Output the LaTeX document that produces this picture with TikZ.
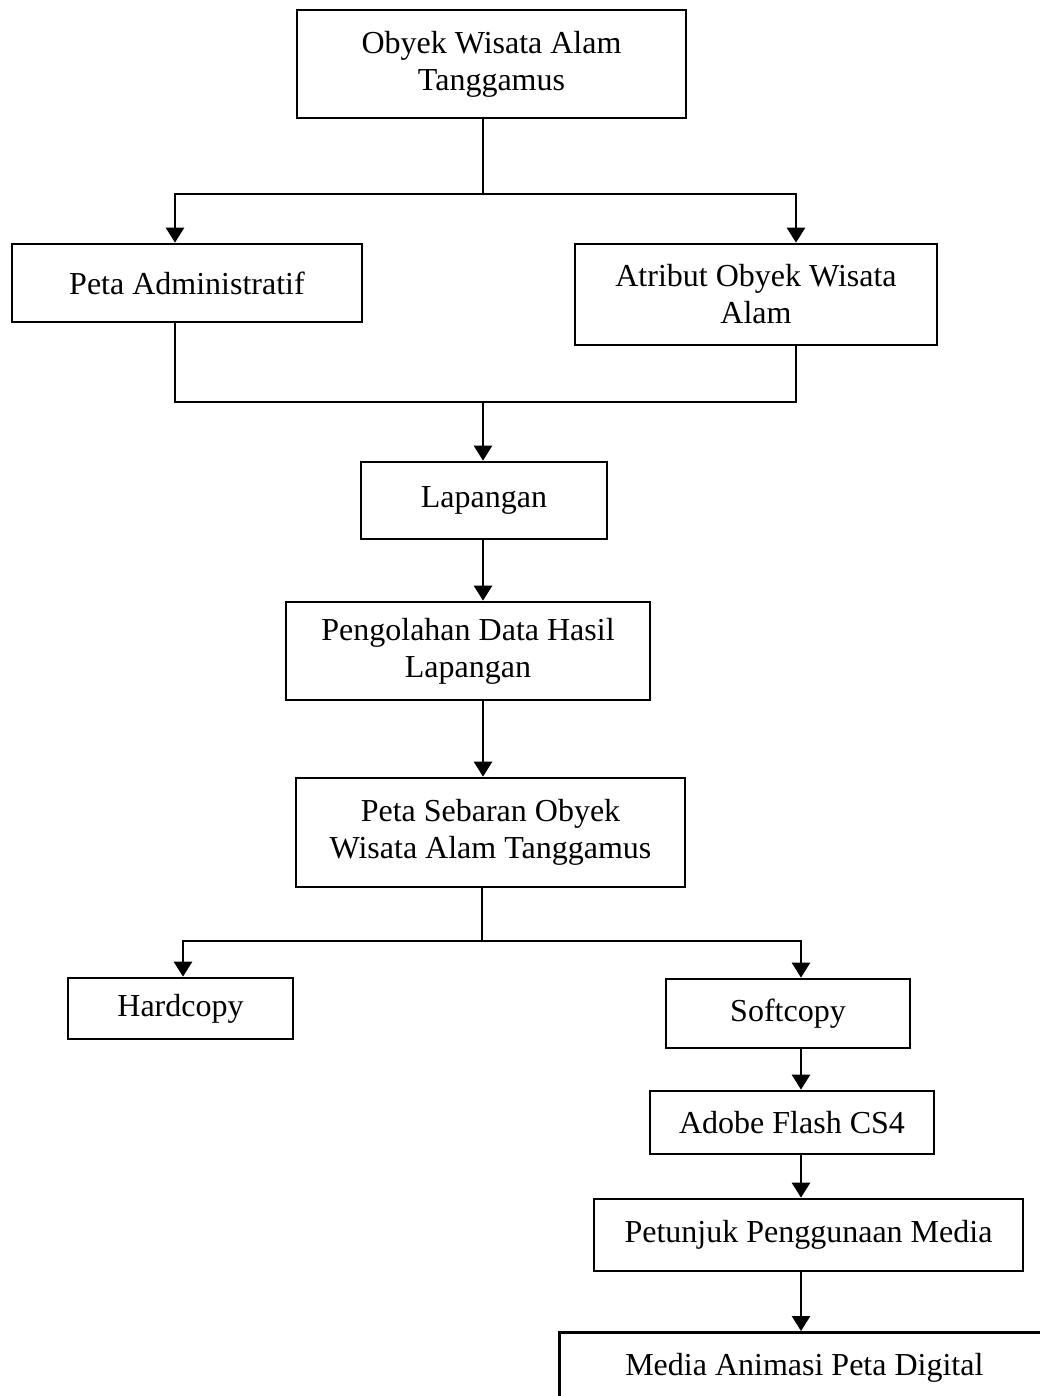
\documentclass[tikz,border=0pt]{standalone}
\usepackage{fontspec}
\setmainfont{Liberation Serif}
\usetikzlibrary{arrows.meta}
\tikzset{
  every picture/.style={
    line width=2.7pt,
    >={Triangle[width=18pt, length=15pt]}
  },
  box/.style={
    draw, rectangle, align=center, inner sep=0pt,
    font=\fontsize{32}{37}\selectfont
  }
}

\begin{document}
\begin{tikzpicture}[x=1pt,y=-1pt]
  \useasboundingbox (0,0) rectangle (1040,1396);
  % boxes
  \node [box,minimum width=389pt,minimum height=108pt] (obyek) at (491.5,64) {Obyek Wisata Alam\\Tanggamus};
  \node [box,minimum width=350pt,minimum height=78pt] (admin) at (187,283) {Peta Administratif};
  \node [box,minimum width=362pt,minimum height=101pt] (atribut) at (756,294.5) {Atribut Obyek Wisata\\Alam};
  \node [box,minimum width=246pt,minimum height=77pt] (lapangan) at (484,500.5) {Lapangan};
  \node [box,minimum width=364pt,minimum height=98pt] (olah) at (468,651) {Pengolahan Data Hasil\\Lapangan};
  \node [box,minimum width=389pt,minimum height=109pt] (sebaran) at (490.5,832.5) {Peta Sebaran Obyek\\Wisata Alam Tanggamus};
  \node [box,minimum width=225pt,minimum height=61pt] (hardcopy) at (180.5,1008.5) {Hardcopy};
  \node [box,minimum width=244pt,minimum height=69pt] (softcopy) at (788,1013.5) {Softcopy};
  \node [box,minimum width=284pt,minimum height=63pt] (flash) at (792,1122.5) {Adobe Flash CS4};
  \node [box,minimum width=429pt,minimum height=72pt] (petunjuk) at (808.5,1235) {Petunjuk Penggunaan Media};
  \node [box,minimum width=490pt,minimum height=70pt,anchor=north west] (media) at (558,1331) {Media Animasi Peta Digital};
  % connector columns
  \coordinate (lft) at (175,0);
  \coordinate (rgt) at (796,0);
  \coordinate (hc) at (183,0);
  \coordinate (chain) at (801,0);
  \coordinate (split) at (483,194);
  \coordinate (merge) at (483,402);
  \coordinate (split2) at (482,941);
  % connectors
  \draw (obyek.south -| split) -- (split);
  \draw [->] (split) -| (admin.north -| lft);
  \draw [->] (split) -| (atribut.north -| rgt);
  \draw (admin.south -| lft) |- (merge) -| (atribut.south -| rgt);
  \draw [->] (merge) -- (lapangan.north -| merge);
  \draw [->] (lapangan.south -| merge) -- (olah.north -| merge);
  \draw [->] (olah.south -| merge) -- (sebaran.north -| merge);
  \draw (sebaran.south -| split2) -- (split2);
  \draw [->] (split2) -| (hardcopy.north -| hc);
  \draw [->] (split2) -| (softcopy.north -| chain);
  \draw [->] (softcopy.south -| chain) -- (flash.north -| chain);
  \draw [->] (flash.south -| chain) -- (petunjuk.north -| chain);
  \draw [->] (petunjuk.south -| chain) -- (media.north -| chain);
\end{tikzpicture}
\end{document}
